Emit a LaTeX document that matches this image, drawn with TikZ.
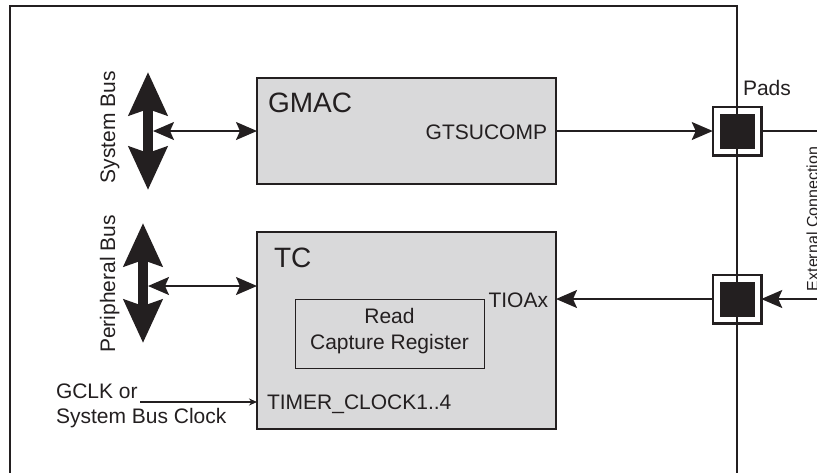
\documentclass[tikz,border=0pt]{standalone}
\usepackage{fontspec}
\setmainfont{Liberation Sans}
\usetikzlibrary{arrows.meta}
\definecolor{ink}{HTML}{231F20}
\definecolor{boxgray}{RGB}{217,217,218}
\begin{document}
\begin{tikzpicture}[x=1pt,y=-1pt,
  every node/.style={text=ink, inner sep=0pt, outer sep=0pt},
  frame/.style={draw=ink, line width=1.6pt, anchor=north west},
  block/.style={draw=ink, fill=boxgray, line width=1.6pt, anchor=north west},
  regbox/.style={draw=ink, line width=1pt, anchor=north west},
  padout/.style={draw=ink, line width=2.5pt, minimum size=48.5pt},
  padin/.style={fill=ink, minimum size=35pt},
  lbl/.style={font=\fontsize{21}{25}\selectfont},
  title/.style={font=\fontsize{28}{32}\selectfont},
  smalllbl/.style={font=\fontsize{16}{18}\selectfont},
  wire/.style={draw=ink, line width=1.8pt},
  sig/.style={wire, -{Stealth[length=21pt,width=18pt,inset=4pt]}},
  bisig/.style={wire, {Stealth[length=21pt,width=18pt,inset=4pt]}-{Stealth[length=21pt,width=18pt,inset=4pt]}},
  bus/.style={draw=ink, line width=10pt, {Stealth[length=43pt,width=38pt,inset=6pt]}-{Stealth[length=43pt,width=38pt,inset=6pt]}},
  thinsig/.style={draw=ink, line width=1.2pt, -{Stealth[length=8pt,width=7pt]}}
]
\path[use as bounding box] (0,0) rectangle (817,472);
\clip (0,0) rectangle (817,472);

% chip frame (open at the bottom)
\node[frame, minimum width=727pt, minimum height=520pt] (chip) at (10,6) {};

% GMAC block
\node[block, minimum width=299pt, minimum height=106pt] (gmac) at (257,78) {};
\node[title, anchor=base west] (gmacT) at (268,112) {GMAC};
\node[lbl, anchor=base east] (gts) at (547,139) {GTSUCOMP};

% TC block
\node[block, minimum width=299pt, minimum height=197pt] (tc) at (257,232) {};
\node[title, anchor=base west] (tcT) at (274,267) {TC};
\node[regbox, minimum width=189pt, minimum height=69pt] (reg) at (295,299) {};
\node[lbl, anchor=base] (regT1) at (389.5,323) {Read};
\node[lbl, anchor=base] (regT2) at (389.5,349) {Capture Register};
\node[lbl, anchor=base east] (tioa) at (548,307) {TIOAx};
\node[lbl, anchor=base west] (tclk) at (267,409) {TIMER\_CLOCK1..4};

% pads
\node[padout] (pad1) at (737,131) {};
\node[padin] (pad1c) at (pad1) {};
\node[padout] (pad2) at (737,299) {};
\node[padin] (pad2c) at (pad2) {};
\node[lbl, anchor=base west] (pads) at (743,95) {Pads};
\node[smalllbl, rotate=90, anchor=base] (ext) at (818,219) {External Connection};

% external connections
\coordinate (ext1) at (830,131);
\coordinate (ext2) at (830,299);
\draw[sig] (gmac.east |- pad1) -- (pad1.west);
\draw[wire] (pad1.east) -- (ext1);
\draw[sig] (ext2) -- (pad2.east);
\draw[sig] (pad2.west) -- (pad2.west -| tc.east);

% buses
\coordinate (sbTop) at (148,72);
\coordinate (sbBot) at (148,190);
\coordinate (sbTap) at (153,131);
\draw[bus] (sbTop) -- (sbBot);
\draw[bisig] (sbTap) -- (sbTap -| gmac.west);
\coordinate (pbTop) at (143,223);
\coordinate (pbBot) at (143,343);
\coordinate (pbTap) at (148,286);
\draw[bus] (pbTop) -- (pbBot);
\draw[bisig] (pbTap) -- (pbTap -| tc.west);
\node[lbl, rotate=90, anchor=base] (sbL) at (115,127) {System Bus};
\node[lbl, rotate=90, anchor=base] (pbL) at (115,284) {Peripheral Bus};

% clock input
\node[lbl, anchor=base west] (gclk1) at (56,398) {GCLK or};
\node[lbl, anchor=base west] (gclk2) at (56,423) {System Bus Clock};
\coordinate (clkIn) at (140,402);
\draw[thinsig] (clkIn) -- (clkIn -| tc.west);
\end{tikzpicture}
\end{document}
